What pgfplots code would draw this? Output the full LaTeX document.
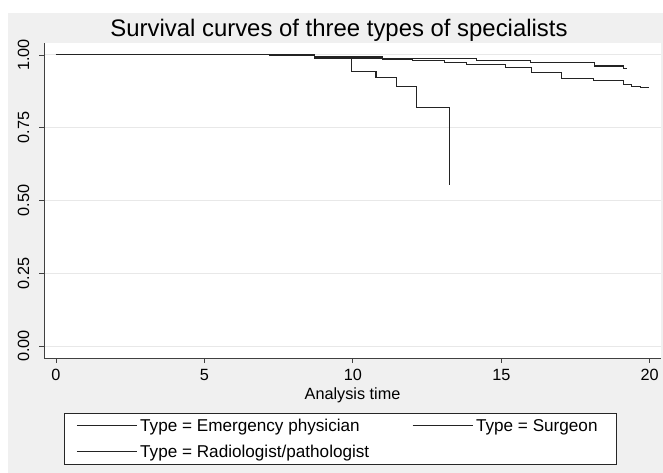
\documentclass[border=0pt]{standalone}
\usepackage{fontspec}
\setmainfont{Liberation Sans}
\usepackage{pgfplots}
\pgfplotsset{compat=1.18}

\definecolor{bggray}{RGB}{240,240,240}
\definecolor{gridgray}{RGB}{232,232,232}
\definecolor{curve}{RGB}{35,35,35}

\begin{document}
\begin{tikzpicture}[x=1bp,y=1bp]
% page and graph region
\path (0,0) rectangle (663,473);
\fill[bggray] (8,0) rectangle (663,460);
\node[anchor=base, font=\fontsize{24}{28}\selectfont] at (339,436.5) {Survival curves of three types of specialists};

\begin{axis}[
    at={(44bp,115bp)}, anchor=south west,
    scale only axis,
    width=617bp, height=315bp,
    xmin=-0.404, xmax=20.38,
    ymin=-0.041, ymax=1.041,
    axis background/.style={fill=white},
    axis x line*=bottom, axis y line*=left,
    axis line style={black!75, line width=0.9bp},
    xtick={0,5,10,15,20},
    ytick={0,0.25,0.5,0.75,1},
    yticklabels={0.00,0.25,0.50,0.75,1.00},
    tick align=outside,
    major tick length=5bp,
    tick style={black!75, line width=0.8bp},
    ymajorgrids,
    grid style={gridgray, line width=0.9bp},
    /pgf/number format/assume math mode=true,
    ticklabel style={font=\fontsize{16.3}{19}\selectfont},
    xticklabel style={anchor=base, yshift=-18bp},
    yticklabel style={rotate=90, anchor=base, yshift=10bp},
    xlabel={Analysis time},
    xlabel style={font=\fontsize{16.3}{19}\selectfont, anchor=base, at={(axis description cs:0.5,-0.1333)}},
    legend columns=2,
    legend cell align=left,
    legend style={
        at={(axis description cs:0.0324,-0.1746)}, anchor=north west,
        draw=black!85, line width=0.8bp, fill=white,
        inner xsep=12bp, inner ysep=3.5bp,
        font=\fontsize{17.2}{20}\selectfont,
        nodes={inner xsep=3bp, inner ysep=2bp},
        /tikz/every even column/.append style={column sep=40bp},
        /tikz/row sep=8bp,
    },
    legend image code/.code={\draw[#1, line width=0.8bp] (0bp,0bp) -- (60bp,0bp);},
    every axis plot post/.append style={curve, line width=1.1bp, mark=none, const plot mark left},
]

% Emergency physician
\addplot coordinates {
    (0,1) (7.2,0.997) (8.7,0.993) (11.0,0.989) (14.17,0.980) (15.97,0.974)
    (18.15,0.962) (19.11,0.954) (19.22,0.954)
};
\addlegendentry{Type = Emergency physician}

% Surgeon
\addplot coordinates {
    (0,1) (7.8,0.998) (8.7,0.992) (10.0,0.988) (11.0,0.984) (12.0,0.980)
    (13.1,0.975) (13.84,0.966) (15.13,0.958) (16.03,0.939) (17.04,0.920)
    (18.10,0.911) (19.11,0.897) (19.4,0.893) (19.7,0.889) (19.96,0.886)
};
\addlegendentry{Type = Surgeon\hspace*{4bp}}

% Radiologist/pathologist
\addplot coordinates {
    (0,1) (8.7,0.988) (9.96,0.943) (10.78,0.922) (11.48,0.891)
    (12.15,0.820) (13.27,0.553)
};
\addlegendentry{Type = Radiologist/pathologist}

\end{axis}
\end{tikzpicture}
\end{document}
